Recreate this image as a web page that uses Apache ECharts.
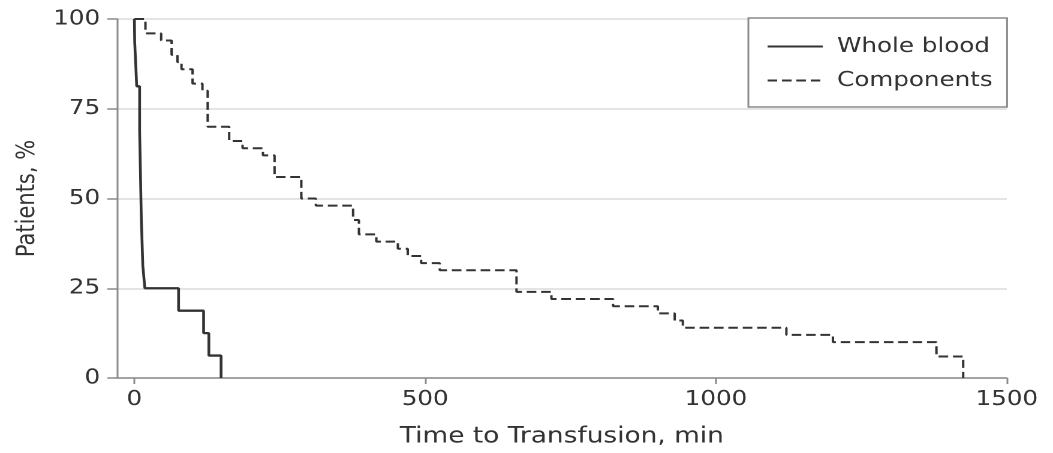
<!DOCTYPE html>
<html>
<head>
<meta charset="utf-8">
<script src="https://cdn.jsdelivr.net/npm/echarts@6/dist/echarts.min.js"></script>
<style>
  html, body { margin: 0; padding: 0; background: #fff; overflow: hidden; }
  /* the plot is laid out in a narrower frame and widened to the page width */
  #chart { position: absolute; left: 0; top: 0; width: 878px; height: 453px;
           transform: scaleX(1.1993); transform-origin: 0 0; }
</style>
</head>
<body>
<div id="chart"></div>
<script>
// Kaplan-Meier style curves: [minutes, % of patients not yet transfused]
const wholeBlood = [
  [0, 100], [0.5, 93.75], [4, 81.25], [9, 68.75], [12, 43.75], [14.5, 31.25],
  [18, 25], [76, 18.75], [119, 12.5], [128, 6.25], [149, 0]
];
const components = [
  [0, 100], [19, 96], [46, 94], [64, 90], [74, 88], [81, 86], [100, 82],
  [117, 80], [126, 70], [163, 66], [186, 64], [221, 62], [241, 56], [287, 50],
  [312, 48], [376, 44], [386, 40], [416, 38], [453, 36], [470, 34], [493, 32],
  [525, 30], [657, 24], [717, 22], [823, 20], [900, 18], [929, 16], [943, 14],
  [1121, 12], [1201, 10], [1379, 6], [1425, 0]
];
const seriesNames = ['Whole blood', 'Components'];
const xTicks = [0, 500, 1000, 1500];
const yTicks = [0, 25, 50, 75, 100];

const font = 'DejaVu Sans';
const ink = '#333333';
const axisGray = '#8c8c8c';

const chart = echarts.init(document.getElementById('chart'), null, { devicePixelRatio: 2 });
chart.setOption({
  animation: false,
  backgroundColor: '#ffffff',
  grid: { left: 97.5, right: 38.5, top: 19, bottom: 75, containLabel: false },
  legend: {
    left: 624, top: 18,
    orient: 'vertical',
    data: seriesNames,
    itemWidth: 46, itemHeight: 20, itemGap: 13,
    padding: [18, 12, 16, 15],
    borderColor: '#8a8a8a', borderWidth: 1.5, borderRadius: 0,
    backgroundColor: '#ffffff',
    // line-only keys: hide the marker drawn on top of the line sample
    itemStyle: { opacity: 0 },
    textStyle: { fontFamily: font, fontSize: 20.5, color: ink, padding: [0, 0, 0, 7] }
  },
  xAxis: {
    type: 'value',
    min: -30, max: 1500,
    name: 'Time to Transfusion, min',
    nameLocation: 'middle', nameGap: 48,
    nameTextStyle: { fontFamily: font, fontSize: 22, color: ink },
    axisLine: { show: true, onZero: false, lineStyle: { color: axisGray, width: 1.5 } },
    axisTick: { show: true, length: 6, customValues: xTicks, lineStyle: { color: axisGray, width: 1.5 } },
    axisLabel: {
      customValues: xTicks, margin: 11, fontFamily: font, fontSize: 20.5, color: ink,
      formatter: v => String(v)
    },
    splitLine: { show: false }
  },
  yAxis: {
    type: 'value',
    min: 0, max: 100, interval: 25,
    name: 'Patients, %',
    nameLocation: 'middle', nameGap: 57, nameRotate: 90,
    nameTextStyle: { fontFamily: font, fontSize: 21, color: ink },
    axisLine: { show: true, onZero: false, lineStyle: { color: axisGray, width: 1.5 } },
    axisTick: { show: true, length: 8, customValues: yTicks, lineStyle: { color: axisGray, width: 1.5 } },
    axisLabel: { customValues: yTicks, margin: 14, fontFamily: font, fontSize: 20.5, color: ink },
    splitLine: { show: true, lineStyle: { color: '#dcdcdc', width: 1.5 } }
  },
  series: [
    {
      name: seriesNames[0], type: 'line', step: 'end', data: wholeBlood,
      symbol: 'none', z: 3,
      lineStyle: { color: ink, width: 2.3, type: 'solid' },
      itemStyle: { color: ink }
    },
    {
      name: seriesNames[1], type: 'line', step: 'end', data: components,
      symbol: 'none', z: 2,
      lineStyle: { color: ink, width: 2, type: [8, 4] },
      itemStyle: { color: ink }
    }
  ]
});
</script>
</body>
</html>
